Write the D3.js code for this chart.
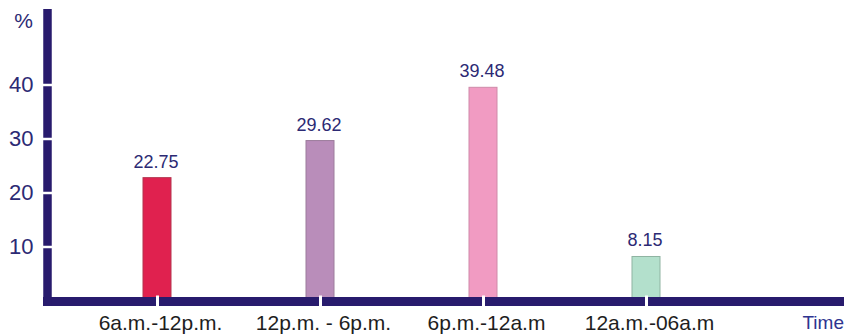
<!DOCTYPE html>
<html>
<head>
<meta charset="utf-8">
<script src="https://cdn.jsdelivr.net/npm/d3@7"></script>
<style>
  html, body { margin: 0; padding: 0; background: #fff; }
  svg { display: block; font-family: "Liberation Sans", Arial, sans-serif; }
</style>
</head>
<body>
<svg id="chart" width="846" height="336"></svg>
<script>
// Share of activity by time of day (%)
const categories = ["6a.m.-12p.m.", "12p.m. - 6p.m.", "6p.m.-12a.m", "12a.m.-06a.m"];
const values = [22.75, 29.62, 39.48, 8.15];
const valueLabels = ["22.75", "29.62", "39.48", "8.15"];
const yTickValues = [10, 20, 30, 40];
const barFills = ["#e0214f", "#b98dba", "#f19bc2", "#b3e0cc"];
const barStrokes = ["#b4344f", "#9c7c9c", "#cf8aa9", "#8fb4a2"];

const navy = "#281b6d";
const svg = d3.select("#chart");

// Scales
const y = d3.scaleLinear().domain([0, 54]).range([300.5, 8.9]);
const x = d3.scalePoint().domain(categories).range([75.5, 727.5]).padding(0.5);
const barWidth = 28;

// Bars (drawn first so the axis covers their bases)
svg.append("g").selectAll("rect")
  .data(values)
  .join("rect")
  .attr("x", (d, i) => x(categories[i]) - barWidth / 2)
  .attr("y", d => y(d))
  .attr("width", barWidth)
  .attr("height", d => y(0) - y(d))
  .attr("fill", (d, i) => barFills[i])
  .attr("stroke", (d, i) => barStrokes[i])
  .attr("stroke-width", 1);

// Value labels above bars
svg.append("g").selectAll("text")
  .data(values)
  .join("text")
  .attr("x", (d, i) => x(categories[i]) - 1)
  .attr("y", d => y(d) - 10)
  .attr("text-anchor", "middle")
  .attr("font-size", 18)
  .attr("fill", "#2c2a74")
  .text((d, i) => valueLabels[i]);

// X axis: thick baseline with white notches at each category
const xAxisY = 301.5;
svg.append("line")
  .attr("x1", 43).attr("x2", 844)
  .attr("y1", xAxisY).attr("y2", xAxisY)
  .attr("stroke", navy).attr("stroke-width", 9);

const xAxis = svg.append("g")
  .attr("transform", `translate(0,${xAxisY - 6})`)
  .call(d3.axisBottom(x).tickSize(12).tickSizeOuter(0).tickPadding(8));
xAxis.select(".domain").remove();
xAxis.selectAll(".tick line").attr("stroke", "#fff").attr("stroke-width", 3);
xAxis.selectAll(".tick text")
  .attr("font-size", 21)
  .attr("font-family", "Liberation Sans, Arial, sans-serif")
  .attr("fill", "#1e1e1e")
  .attr("dx", 3);

// Y axis: thick vertical bar with white notches at each tick
const yAxisX = 47.5;
svg.append("line")
  .attr("x1", yAxisX).attr("x2", yAxisX)
  .attr("y1", y(54)).attr("y2", xAxisY + 4.5)
  .attr("stroke", navy).attr("stroke-width", 8.5);

const yAxis = svg.append("g")
  .attr("transform", `translate(${yAxisX + 6},0)`)
  .call(d3.axisLeft(y).tickValues(yTickValues).tickSize(12).tickSizeOuter(0).tickPadding(8));
yAxis.select(".domain").remove();
yAxis.selectAll(".tick line").attr("stroke", "#fff").attr("stroke-width", 2.5);
yAxis.selectAll(".tick text")
  .attr("font-size", 22)
  .attr("font-family", "Liberation Sans, Arial, sans-serif")
  .attr("fill", "#2c2a74");

// Axis titles
svg.append("text")
  .attr("x", 33).attr("y", 28)
  .attr("text-anchor", "end")
  .attr("font-size", 21)
  .attr("fill", "#2c2a74")
  .text("%");

svg.append("text")
  .attr("x", 844).attr("y", 329)
  .attr("text-anchor", "end")
  .attr("font-size", 19)
  .attr("fill", "#2e3490")
  .text("Time");
</script>
</body>
</html>
